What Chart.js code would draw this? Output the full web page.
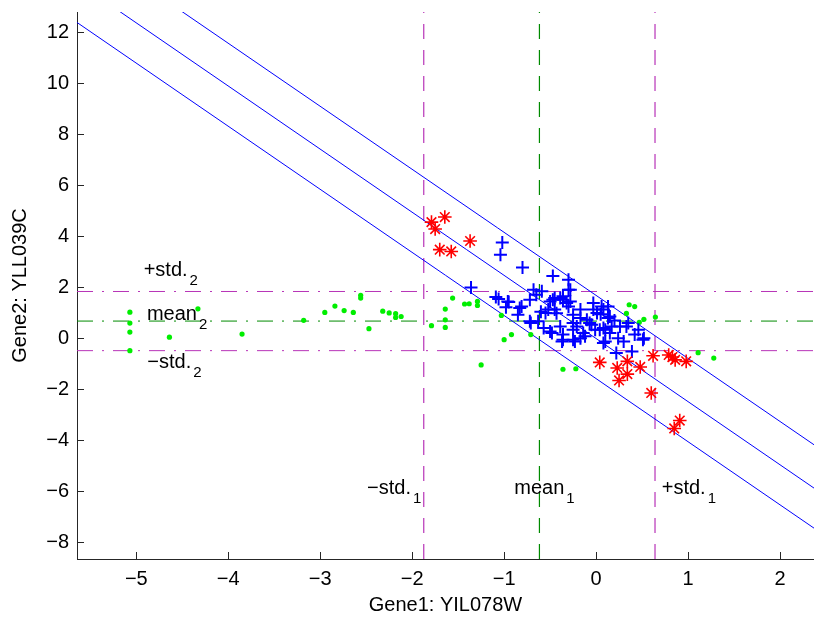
<!DOCTYPE html>
<html>
<head>
<meta charset="utf-8">
<script src="https://cdn.jsdelivr.net/npm/chart.js@4/dist/chart.umd.min.js"></script>
<style>
  html, body { margin: 0; padding: 0; background: #fff; }
  #wrap { width: 814px; height: 619px; }
</style>
</head>
<body>
<div id="wrap"><canvas id="geneChart" width="814" height="619"></canvas></div>
<script>
// axis ranges and ticks
const xRange = [-5.645, 2.37];
const yRange = [-8.65, 12.8];
const xTicks = [-5, -4, -3, -2, -1, 0, 1, 2];
const yTicks = [-8, -6, -4, -2, 0, 2, 4, 6, 8, 10, 12];

// green dots (other genes)
const greenX = [-5.07, -5.07, -5.07, -5.07, -4.64, -4.33, -3.85, -3.18, -2.95, -2.84, -2.74, -2.64, -2.56, -2.56,
  -2.47, -2.32, -2.25, -2.18, -2.18, -2.12, -1.79, -1.64, -1.64, -1.64, -1.56, -1.43, -1.38, -1.29, -1.29,
  -1.25, -1.03, -1.00, -0.92, -0.71, -0.36, -0.22, 0.33, 0.36, 0.42, 0.47, 0.52, 0.645, 1.11, 1.28];
const greenY = [1.03, 0.60, 0.25, -0.48, 0.05, 1.16, 0.17, 0.71, 1.02, 1.27, 1.09, 1.02, 1.69, 1.58,
  0.38, 1.07, 1.00, 0.97, 0.82, 0.86, 0.50, 1.15, 0.73, 0.43, 1.58, 1.35, 1.36, 1.45, 1.29,
  -1.04, 0.90, -0.05, 0.15, 0.15, -1.21, -1.19, 0.98, 1.32, 1.25, 0.63, 0.75, 0.84, -0.56, -0.77];

// blue plus markers
const plusX = [-1.02, -1.04, -0.80, -1.36, -1.09, -0.96, -0.98, -0.83, -0.85, -0.68, -0.65, -0.59, -0.47, -0.30,
  -0.28, -0.71, -0.57, -0.48, -0.37, -0.47, -0.36, -0.52, -0.43, -0.28, -0.25, -0.25, -0.23, -1.06, -0.95,
  -0.81, -0.72, -0.50, -0.39, -0.55, -0.45, -0.30, -0.72, -0.63, -0.50, -0.36, -0.25, -0.21, -0.17, -0.03,
  0.01, -0.07, -0.12, 0.04, 0.08, 0.13, 0.13, -0.45, -0.36, -0.30, -0.17, 0.06, 0.15, -0.10, -0.25, -0.39,
  -0.14, -0.01, 0.10, 0.17, 0.26, 0.35, 0.46, 0.52, 0.22, 0.39, 0.30, -0.36, -0.32, -0.03, 0.08, -0.17,
  -0.05, 0.08, 0.15, 0.33, 0.51, 0.10, 0.24, 0.20, 0.05, -0.60, 0.42];
const plusY = [3.76, 3.28, 2.78, 2.00, 1.62, 1.45, 1.22, 1.19, 0.93, 1.91, 1.71, 1.85, 2.45, 2.30,
  1.91, 0.60, 0.41, 0.21, -0.12, 1.52, 1.52, 1.13, 0.99, 1.45, 0.93, 0.34, -0.12, 1.55, 1.43,
  1.25, 1.52, 1.45, 1.58, 1.00, 1.13, 1.25, 0.67, 0.67, 0.27, -0.05, -0.05, 0.47, 0.80, 1.39,
  1.00, 0.60, 0.08, 0.34, -0.18, 0.80, 1.25, 1.58, 1.65, 1.91, 1.13, 1.25, 0.86, 0.73, 0.60, 0.47,
  0.21, 0.34, 0.34, 0.47, 0.47, 0.60, 0.34, 0.01, -0.57, -0.51, -0.12, 0.15, 1.39, 1.13, 1.13, 0.01,
  0.54, 0.41, 0.21, 0.47, -0.05, -0.12, 0.01, 0.70, 0.95, 1.05, 0.15];

// red asterisk markers
const starX = [-1.79, -1.645, -1.75, -1.70, -1.575, -1.37, 0.04, 0.23, 0.34, 0.34, 0.25, 0.48, 0.62, 0.79,
  0.83, 0.86, 0.98, 0.60, 0.91, 0.85];
const starY = [4.56, 4.76, 4.29, 3.48, 3.41, 3.82, -0.94, -1.16, -0.90, -1.40, -1.65, -1.12, -0.68, -0.65,
  -0.73, -0.84, -0.90, -2.14, -3.22, -3.53];

// three parallel regression lines, end points
const bandX = [-5.645, 2.37];
const bandLow = [12.39, -7.44];
const bandMid = [13.97, -5.87];
const bandHigh = [15.64, -4.17];

// mean / std reference lines
const vLines = [-1.874, -0.616, 0.641];   // -std1, mean1, +std1
const hLines = [1.84, 0.68, -0.48];       // +std2, mean2, -std2

// text labels
const labelMain = ['+std.', 'mean', '\u2212std.', '\u2212std.', 'mean', '+std.'];
const labelSub = ['2', '2', '2', '1', '1', '1'];
const labelX = [-4.92, -4.885, -4.88, -2.49, -0.89, 0.714];
const labelY = [2.43, 0.73, -1.16, -6.10, -6.10, -6.10];

const FONT = '"Liberation Sans", Arial, sans-serif';
const fmt = v => (v < 0 ? '\u2212' + Math.abs(v) : String(v));
const pts = (xs, ys) => xs.map((x, i) => ({ x, y: ys[i] }));

const magenta = '#b834b8';
const green = '#008a00';

const datasets = [
    {
        data: pts(starX, starY),
        pointStyle: 'star', pointRadius: 6.8, borderColor: '#ff0000', borderWidth: 1.6,
        backgroundColor: '#ff0000', showLine: false
    },
    {
        data: pts(plusX, plusY),
        pointStyle: 'cross', pointRadius: 6.5, borderColor: '#0000ff', borderWidth: 2,
        backgroundColor: '#0000ff', showLine: false
    },
    {
        data: pts(greenX, greenY),
        pointStyle: 'circle', pointRadius: 2.6, borderWidth: 0,
        backgroundColor: '#00ee00', showLine: false
    }
];

[bandLow, bandMid, bandHigh].forEach(b => {
    datasets.push({
        data: pts(bandX, b), showLine: true, pointRadius: 0,
        borderColor: '#0000ff', borderWidth: 1, fill: false
    });
});

vLines.forEach((v, i) => {
    datasets.push({
        data: pts([v, v], yRange), showLine: true, pointRadius: 0,
        borderColor: i === 1 ? green : magenta, borderWidth: 1.2, borderDash: [15, 11], fill: false
    });
});

hLines.forEach((v, i) => {
    datasets.push({
        data: pts(xRange, [v, v]), showLine: true, pointRadius: 0,
        borderColor: i === 1 ? green : magenta, borderWidth: 1, borderDash: [16, 9, 2, 9], fill: false
    });
});

// inward ticks and the text labels
const overlay = {
    id: 'overlay',
    afterDraw(chart) {
        const { ctx, chartArea, scales: { x, y } } = chart;
        ctx.save();
        ctx.strokeStyle = '#262626';
        ctx.lineWidth = 1;
        xTicks.forEach(v => {
            const px = Math.round(x.getPixelForValue(v)) + 0.5;
            ctx.beginPath();
            ctx.moveTo(px, chartArea.bottom);
            ctx.lineTo(px, chartArea.bottom - 7);
            ctx.stroke();
        });
        yTicks.forEach(v => {
            const py = Math.round(y.getPixelForValue(v)) + 0.5;
            ctx.beginPath();
            ctx.moveTo(chartArea.left, py);
            ctx.lineTo(chartArea.left + 7, py);
            ctx.stroke();
        });

        ctx.fillStyle = '#000';
        ctx.textBaseline = 'alphabetic';
        ctx.textAlign = 'left';
        labelMain.forEach((t, i) => {
            const px = x.getPixelForValue(labelX[i]);
            const py = y.getPixelForValue(labelY[i]);
            ctx.font = '20px ' + FONT;
            ctx.fillText(t, px, py);
            const w = ctx.measureText(t).width;
            ctx.font = '15px ' + FONT;
            ctx.fillText(labelSub[i], px + w + 2, py + 9);
        });
        ctx.restore();
    }
};

const ctx = document.getElementById('geneChart').getContext('2d');
new Chart(ctx, {
    type: 'scatter',
    data: { datasets },
    plugins: [overlay],
    options: {
        responsive: false,
        devicePixelRatio: 1,
        animation: false,
        layout: { autoPadding: false, padding: { top: 12, right: 0, bottom: 0, left: 0 } },
        plugins: { legend: { display: false }, tooltip: { enabled: false } },
        scales: {
            x: {
                type: 'linear',
                min: xRange[0],
                max: xRange[1],
                afterBuildTicks: s => { s.ticks = xTicks.map(v => ({ value: v })); },
                afterFit: s => { s.height = 60; s.paddingLeft = 0; s.paddingRight = 0; },
                grid: { display: false, drawTicks: false },
                border: { display: true, color: '#262626', width: 1 },
                ticks: { color: '#000', padding: 8, font: { family: FONT, size: 20 }, callback: v => fmt(v) },
                title: { display: true, text: 'Gene1: YIL078W', color: '#000',
                    font: { family: FONT, size: 20 }, padding: { top: 0, bottom: 2 } }
            },
            y: {
                type: 'linear',
                min: yRange[0],
                max: yRange[1],
                afterBuildTicks: s => { s.ticks = yTicks.map(v => ({ value: v })); },
                afterFit: s => { s.width = 77; s.paddingTop = 0; s.paddingBottom = 0; },
                grid: { display: false, drawTicks: false },
                border: { display: true, color: '#262626', width: 1 },
                ticks: { color: '#000', padding: 8, font: { family: FONT, size: 20 }, callback: v => fmt(v) },
                title: { display: true, text: 'Gene2: YLL039C', color: '#000',
                    font: { family: FONT, size: 20 }, padding: { top: 8, bottom: 0 } }
            }
        }
    }
});
</script>
</body>
</html>
